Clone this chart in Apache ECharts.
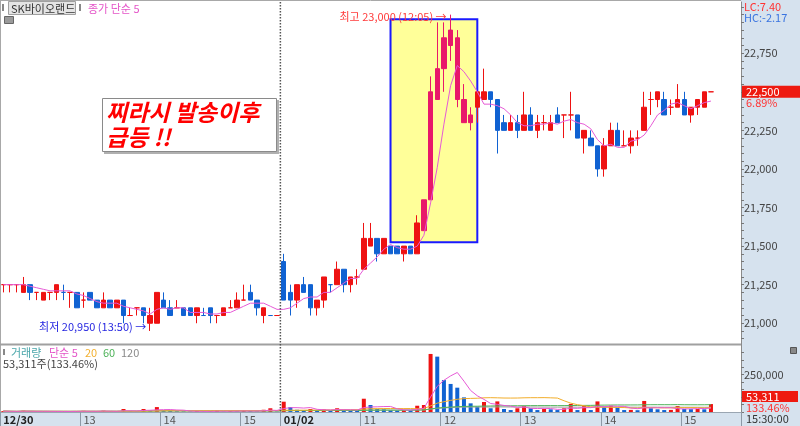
<!DOCTYPE html>
<html>
<head>
<meta charset="utf-8">
<script src="https://cdn.jsdelivr.net/npm/echarts@6.0.0/dist/echarts.min.js"></script>
<style>
html,body{margin:0;padding:0;background:#fff;}
#chart{width:800px;height:426px;}
</style>
</head>
<body>
<div id="chart"></div>
<script>
// ---------------- data ----------------
function sessionTimes(date, h, m, count) {
  const out = [];
  for (let k = 0; k < count; k++) {
    const t = h * 60 + m + 5 * k;
    out.push(date + ' ' + String(Math.floor(t / 60)).padStart(2, '0') + ':' + String(t % 60).padStart(2, '0'));
  }
  return out;
}
const categories = sessionTimes('12/30', 12, 0, 42).concat(sessionTimes('01/02', 10, 0, 65));

const opens = [
21250,21250,21250,21200,21250,21200,21150,21200,21200,21200,21200,21200,
21150,21200,21150,21100,21150,21100,21150,21050,21100,21100,21000,21000,
21150,21100,21100,21100,21100,21050,21050,21100,21050,21050,21100,21100,
21150,21200,21150,21050,21050,21050,
21400,21200,21150,21250,21250,21100,21150,21250,21250,21350,21250,21300,
21350,21500,21550,21450,21500,21500,21450,21500,21450,21600,21800,22450,
22650,22800,22850,22450,22300,22400,22450,22500,22450,22300,22250,22300,
22250,22350,22250,22300,22250,22350,22350,22350,22350,22200,22200,22150,
22000,22150,22250,22150,22150,22200,22250,22450,22450,22450,22400,22400,
22450,22350,22400,22400,22500];
const closes = [
21250,21250,21250,21250,21200,21200,21200,21200,21250,21200,21200,21100,
21150,21150,21100,21150,21100,21150,21050,21050,21100,21050,21050,21200,
21100,21050,21100,21050,21050,21100,21050,21050,21050,21100,21100,21150,
21150,21150,21100,21100,21050,21050,
21150,21150,21250,21200,21100,21150,21300,21250,21350,21250,21300,21300,
21550,21550,21450,21550,21450,21450,21500,21450,21650,21800,22500,22650,
22850,22900,22450,22300,22350,22500,22500,22450,22250,22250,22300,22250,
22350,22250,22300,22300,22300,22300,22350,22350,22200,22250,22150,22000,
22150,22250,22150,22150,22200,22200,22400,22450,22500,22350,22400,22450,
22350,22400,22450,22500,22500];
const lows = [
21200,21200,21200,21200,21150,21150,21150,21150,21150,21150,21100,21100,
21100,21150,21100,21100,21100,21100,21000,21050,21050,21000,20950,21000,
21100,21050,21100,21050,21050,21000,21050,21000,21000,21050,21100,21100,
21150,21150,21050,21000,21050,21050,
21150,21050,21100,21200,21050,21050,21100,21200,21250,21200,21200,21250,
21350,21500,21400,21450,21450,21450,21400,21450,21450,21600,21800,22450,
22500,22700,22400,22300,22250,22300,22450,22400,22100,22250,22250,22200,
22250,22250,22200,22250,22250,22300,22200,22250,22200,22100,22150,21950,
21950,22150,22150,22150,22100,22150,22250,22350,22400,22350,22350,22400,
22350,22300,22350,22400,22500];
const highs = [
21250,21250,21250,21300,21250,21200,21200,21200,21250,21250,21200,21200,
21200,21200,21150,21200,21150,21150,21150,21100,21100,21100,21100,21200,
21200,21150,21150,21100,21100,21100,21100,21100,21050,21100,21150,21200,
21250,21250,21150,21100,21050,21050,
21450,21250,21250,21300,21250,21150,21300,21250,21400,21350,21300,21350,
21650,21650,21550,21550,21500,21500,21500,21500,21700,21800,22600,22950,
22950,23000,22900,22550,22400,22500,22650,22500,22450,22350,22350,22350,
22500,22400,22350,22350,22350,22400,22350,22500,22350,22250,22250,22150,
22200,22300,22300,22250,22250,22250,22500,22500,22500,22500,22450,22550,
22500,22400,22450,22500,22500];
const volumes = [
6000,4000,3000,9000,5000,3000,4000,3000,5000,4000,3000,6000,
8000,4000,3000,9000,4000,3000,20000,5000,4000,20000,10000,33000,
12000,8000,5000,4000,3000,6000,3000,5000,10000,3000,6000,4000,
12000,6000,4000,15000,25000,3000,
69000,33000,15000,12000,20000,10000,18000,8000,25000,15000,10000,8000,
89000,47000,20000,18000,12000,10000,13000,12000,42000,47000,389000,371000,
214000,188000,163000,98000,58000,36000,67000,25000,71000,20000,13000,25000,
40000,25000,13000,20000,18000,13000,25000,54000,13000,40000,13000,71000,
36000,42000,29000,13000,14000,12000,74000,25000,18000,13000,14000,40000,
20000,19000,20000,18000,53311];

const tickCategories = ['12/30 12:00','12/30 13:00','12/30 14:00','12/30 15:00','01/02 10:00','01/02 11:00','01/02 12:00','01/02 13:00','01/02 14:00','01/02 15:00'];
const tickLabels = ['12/30','13','14','15','01/02','11','12','13','14','15'];
const priceTickValues = [21000,21250,21500,21750,22000,22250,22500,22750];
const volumeTickValues = [250000];

// annotation anchors
const highIdx = 67, highVal = 23000, lowIdx = 22, lowVal = 20950;
const boxStartIdx = 58, boxEndIdx = 71, boxTop = 22970, boxBottom = 21525;
const hlStart = 63, hlEnd = 70;
const lastPrice = 22500, lastPct = '6.89%', lastVol = '53,311', lastVolPct = '133.46%';

// ---------------- helpers ----------------
function ma(arr, n) {
  return arr.map((_, i) => {
    const s = Math.max(0, i - n + 1);
    let sum = 0;
    for (let k = s; k <= i; k++) sum += arr[k];
    return +(sum / (i - s + 1)).toFixed(1);
  });
}
const fmt = v => String(v).replace(/\B(?=(\d{3})+(?!\d))/g, ',');

const FONT = '"Noto Sans CJK KR", "Noto Sans", sans-serif';
const RED = '#ee1212', BLUE = '#1062d2', HLRED = '#e8186a', HLBLUE = '#1a56b0';
const PMIN = 20859, PMAX = 23082;
const VMAX = 449000;
const SLOTS = 111;

const candleData = opens.map((o, i) => {
  const item = { value: [o, closes[i], lows[i], highs[i]] };
  if (i >= hlStart && i <= hlEnd) {
    item.itemStyle = { color: HLRED, color0: HLBLUE, borderColor: HLRED, borderColor0: HLBLUE };
  }
  return item;
});
const volData = volumes.map((v, i) => ({
  value: v,
  itemStyle: { color: (i === 0 || v > volumes[i - 1]) ? RED : BLUE }
}));

const minorPrice = [];
for (let p = 20900; p <= 23050; p += 50) minorPrice.push(p);
const minorVol = [];
for (let v = 0; v <= 400000; v += 50000) minorVol.push(v);

const chart = echarts.init(document.getElementById('chart'));

const option = {
  animation: false,
  textStyle: { fontFamily: FONT },
  grid: [
    { left: 0, right: 59, top: 2, height: 343 },
    { left: 0, right: 59, top: 345, height: 67 }
  ],
  xAxis: [
    { type: 'category', gridIndex: 0, data: categories, max: SLOTS - 1, boundaryGap: true,
      axisLine: { show: false }, axisTick: { show: false }, axisLabel: { show: false }, splitLine: { show: false } },
    { type: 'category', gridIndex: 1, data: categories, max: SLOTS - 1, boundaryGap: true,
      axisLine: { show: true, lineStyle: { color: '#9aa6b2' } },
      axisTick: { show: true, length: 14, alignWithLabel: false,
        interval: (idx, val) => tickCategories.indexOf(val) >= 0,
        lineStyle: { color: '#8d99a6' } },
      axisLabel: { show: true, interval: (idx, val) => tickCategories.indexOf(val) >= 0,
        formatter: val => {
          const k = tickCategories.indexOf(val);
          if (k < 0) return '';
          const t = tickLabels[k];
          return t.indexOf('/') >= 0 ? '{b|' + t + '}' : '{n|' + t + '}';
        },
        align: 'left', margin: 2,
        rich: {
          b: { fontSize: 11, fontWeight: 'bold', color: '#222', fontFamily: FONT },
          n: { fontSize: 11, color: '#555', fontFamily: FONT }
        } },
      splitLine: { show: false } }
  ],
  yAxis: [
    { type: 'value', gridIndex: 0, position: 'right', min: PMIN, max: PMAX, scale: true,
      axisLine: { show: true, lineStyle: { color: '#8a8a8a' } },
      axisTick: { show: true, length: 3, customValues: minorPrice, lineStyle: { color: '#777' } },
      axisLabel: { show: true, customValues: priceTickValues, formatter: v => fmt(v), margin: 3,
        fontSize: 11, color: '#444', fontFamily: FONT },
      splitLine: { show: false } },
    { type: 'value', gridIndex: 1, position: 'right', min: 0, max: VMAX,
      axisLine: { show: true, lineStyle: { color: '#8a8a8a' } },
      axisTick: { show: true, length: 3, customValues: minorVol, lineStyle: { color: '#777' } },
      axisLabel: { show: true, customValues: volumeTickValues, formatter: v => fmt(v), margin: 3,
        fontSize: 11, color: '#444', fontFamily: FONT },
      splitLine: { show: false } }
  ],
  series: [
    { type: 'candlestick', xAxisIndex: 0, yAxisIndex: 0, data: candleData, barWidth: 5,
      itemStyle: { color: RED, color0: BLUE, borderColor: RED, borderColor0: BLUE, borderWidth: 1 },
      markArea: { silent: true, z: 1,
        itemStyle: { color: '#ffff99', borderColor: '#1a1aff', borderWidth: 2 },
        data: [[{ xAxis: categories[boxStartIdx], yAxis: boxTop }, { xAxis: categories[boxEndIdx], yAxis: boxBottom }]] },
      markPoint: { silent: true, symbol: 'circle', symbolSize: 0,
        data: [
          { coord: [categories[highIdx], highVal],
            label: { show: true, position: 'left', distance: 4, formatter: '최고 ' + fmt(highVal) + ' (12:05) →',
              color: '#ff3a3a', fontSize: 11, fontFamily: FONT, offset: [0, 2] } },
          { coord: [categories[lowIdx], lowVal],
            label: { show: true, position: 'left', distance: 4, formatter: '최저 ' + fmt(lowVal) + ' (13:50) →',
              color: '#2626e0', fontSize: 11, fontFamily: FONT, offset: [0, -4] } }
        ] } },
    { type: 'line', xAxisIndex: 0, yAxisIndex: 0, data: ma(closes, 5), symbol: 'none',
      lineStyle: { color: '#e65ad6', width: 1 }, z: 3 },
    { type: 'bar', xAxisIndex: 1, yAxisIndex: 1, data: volData, barWidth: 4 },
    { type: 'line', xAxisIndex: 1, yAxisIndex: 1, data: ma(volumes, 120), symbol: 'none', lineStyle: { color: '#a0a0a0', width: 1 }, z: 3 },
    { type: 'line', xAxisIndex: 1, yAxisIndex: 1, data: ma(volumes, 60), symbol: 'none', lineStyle: { color: '#4fb35a', width: 1 }, z: 3 },
    { type: 'line', xAxisIndex: 1, yAxisIndex: 1, data: ma(volumes, 20), symbol: 'none', lineStyle: { color: '#f2ad2a', width: 1 }, z: 3 },
    { type: 'line', xAxisIndex: 1, yAxisIndex: 1, data: ma(volumes, 5), symbol: 'none', lineStyle: { color: '#e65ad6', width: 1 }, z: 3 }
  ]
};
chart.setOption(option);

// ---------- decorations (placed with the chart's own scales) ----------
const bandW = 741 / SLOTS;
const dayX = chart.convertToPixel({ gridIndex: 0 }, [42, PMIN])[0] - bandW / 2;
const lastY = chart.convertToPixel({ gridIndex: 0 }, [0, lastPrice])[1];
const lastVY = chart.convertToPixel({ gridIndex: 1 }, [0, volumes[volumes.length - 1]])[1];

const txt = (x, y, s, color, size, extra) => Object.assign({
  type: 'text', x: x, y: y, z: 50,
  style: Object.assign({ text: s, fill: color, font: (size || 11) + 'px ' + FONT, verticalAlign: 'middle' }, extra || {})
});

chart.setOption({
  graphic: [
    { type: 'rect', z: -5, shape: { x: 741, y: 0, width: 59, height: 426 }, style: { fill: '#d6e2ee' } },
    { type: 'rect', z: -5, shape: { x: 0, y: 412, width: 741, height: 14 }, style: { fill: '#d6e2ee' } },
    { type: 'line', z: 40, shape: { x1: 0, y1: 0.5, x2: 741, y2: 0.5 }, style: { stroke: '#a8a8a8', lineWidth: 1 } },
    { type: 'line', z: 40, shape: { x1: 0.5, y1: 0, x2: 0.5, y2: 412 }, style: { stroke: '#a8a8a8', lineWidth: 1 } },
    { type: 'line', z: 40, shape: { x1: 0, y1: 344.5, x2: 741, y2: 344.5 }, style: { stroke: '#a0a0a0', lineWidth: 2 } },
    { type: 'line', z: 40, shape: { x1: dayX, y1: 2, x2: dayX, y2: 412 }, style: { stroke: '#555', lineWidth: 1.5, lineDash: [1.5, 1.5] } },

    // header
    { type: 'rect', z: 50, shape: { x: 2, y: 4, width: 2, height: 7 }, style: { fill: '#888' } },
    { type: 'rect', z: 50, shape: { x: 8.5, y: 1.5, width: 67, height: 13 }, style: { fill: '#e4e4e4', stroke: '#a0a0a0' } },
    txt(11, 8.5, 'SK바이오랜드', '#333', 11),
    { type: 'rect', z: 50, shape: { x: 79, y: 4, width: 2, height: 7 }, style: { fill: '#888' } },
    txt(88, 8.5, '종가 단순 5', '#e454c8', 11),
    { type: 'rect', z: 50, shape: { x: 4.5, y: 16.5, width: 9, height: 7 }, style: { fill: '#9a9a9a', stroke: '#666' } },

    // right side info
    txt(744, 7, 'LC:7.40', '#ff3333', 11),
    txt(744, 18, 'HC:-2.17', '#3a74e0', 11),
    { type: 'rect', z: 50, shape: { x: 742, y: lastY - 6, width: 58, height: 12 }, style: { fill: '#ee1a10' } },
    txt(746, lastY, fmt(lastPrice), '#ffffff', 11),
    txt(746, lastY + 11, lastPct, '#ff3333', 11),
    { type: 'rect', z: 50, shape: { x: 742, y: lastVY - 13, width: 56, height: 11 }, style: { fill: '#ee1a10' } },
    txt(746, lastVY - 7.5, lastVol, '#ffffff', 11),
    txt(746, lastVY + 3.5, lastVolPct, '#ff3333', 11),
    txt(746, 419, '15:30:00', '#333', 11),
    { type: 'rect', z: 50, shape: { x: 790.5, y: 347.5, width: 6, height: 6 }, style: { fill: '#888', stroke: '#555' } },

    // volume legend
    { type: 'rect', z: 50, shape: { x: 3, y: 349, width: 2, height: 6 }, style: { fill: '#888' } },
    txt(11, 352.5, '거래량', '#4aa6aa', 11),
    txt(49, 352.5, '단순 5', '#e454c8', 11),
    txt(85, 352.5, '20', '#f2b030', 11),
    txt(103, 352.5, '60', '#4fb35a', 11),
    txt(121, 352.5, '120', '#8a8a8a', 11),
    txt(3, 364, '53,311주(133.46%)', '#444', 11),

    // callout box
    { type: 'rect', z: 45, shape: { x: 104, y: 100, width: 175, height: 54 }, style: { fill: '#b0b0b0' } },
    { type: 'rect', z: 46, shape: { x: 102.5, y: 98.5, width: 174, height: 53 }, style: { fill: '#ffffff', stroke: '#8a8a8a', lineWidth: 1 } },
    { type: 'text', z: 47, x: 106, y: 100,
      style: { text: '찌라시 발송이후\n급등 !!', fill: '#ff0000', font: 'italic bold 23px ' + FONT, lineHeight: 25, verticalAlign: 'top' } }
  ]
});
</script>
</body>
</html>
